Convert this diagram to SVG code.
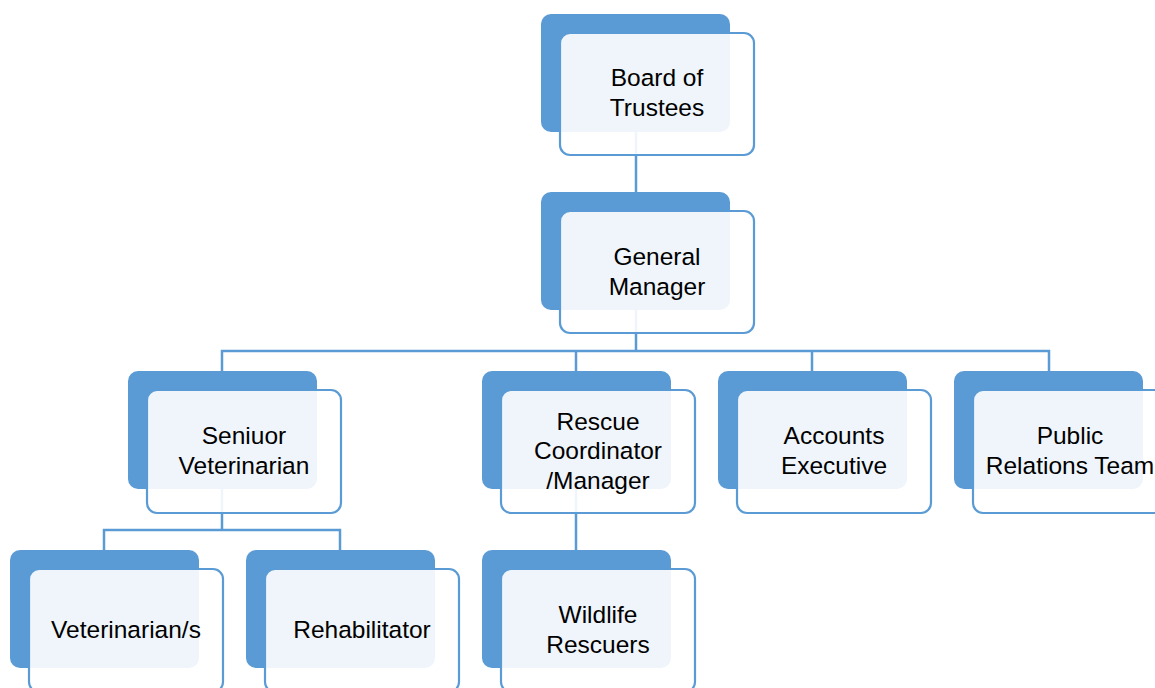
<svg xmlns="http://www.w3.org/2000/svg" width="1155" height="688" viewBox="0 0 1155 688">
<style>
.back{fill:#5B9BD5}
.front{fill:#FFFFFF;fill-opacity:0.9;stroke:#5B9BD5;stroke-width:2.2}
.conn{fill:none;stroke:#5B9BD5;stroke-width:2.5}
text{font-family:"Liberation Sans",Arial,sans-serif;font-size:24.5px;fill:#000;text-anchor:middle}
</style>
<rect width="1155" height="688" fill="#FFFFFF"/>
<g id="connectors">
<path class="conn" d="M636,132V192"/>
<path class="conn" d="M636,310V351M222,371V351H1049V371M576,351V371M812,351V371"/>
<path class="conn" d="M222,489V530M104,550V530H340V550"/>
<path class="conn" d="M576,489V550"/>
</g>
<g id="board">
<rect class="back" x="541" y="14" width="189" height="118" rx="10"/>
<rect class="front" x="560" y="33" width="194" height="122" rx="10"/>
<text x="657" y="86">Board of</text>
<text x="657" y="116">Trustees</text>
</g>
<g id="general-manager">
<rect class="back" x="541" y="192" width="189" height="118" rx="10"/>
<rect class="front" x="560" y="211" width="194" height="122" rx="10"/>
<text x="657" y="265">General</text>
<text x="657" y="295">Manager</text>
</g>
<g id="senior-vet">
<rect class="back" x="128" y="371" width="189" height="118" rx="10"/>
<rect class="front" x="147" y="390" width="194" height="123" rx="10"/>
<text x="244" y="444">Seniuor</text>
<text x="244" y="474">Veterinarian</text>
</g>
<g id="rescue-coordinator">
<rect class="back" x="482" y="371" width="189" height="118" rx="10"/>
<rect class="front" x="501" y="390" width="194" height="123" rx="10"/>
<text x="598" y="430">Rescue</text>
<text x="598" y="459">Coordinator</text>
<text x="598" y="489">/Manager</text>
</g>
<g id="accounts">
<rect class="back" x="718" y="371" width="189" height="118" rx="10"/>
<rect class="front" x="737" y="390" width="194" height="123" rx="10"/>
<text x="834" y="444">Accounts</text>
<text x="834" y="474">Executive</text>
</g>
<g id="public-relations">
<rect class="back" x="954" y="371" width="189" height="118" rx="10"/>
<rect class="front" x="973" y="390" width="194" height="123" rx="10"/>
<text x="1070" y="444">Public</text>
<text x="1070" y="474">Relations Team</text>
</g>
<g id="veterinarians">
<rect class="back" x="10" y="550" width="189" height="118" rx="10"/>
<rect class="front" x="29" y="569" width="194" height="123" rx="10"/>
<text x="126" y="638">Veterinarian/s</text>
</g>
<g id="rehabilitator">
<rect class="back" x="246" y="550" width="189" height="118" rx="10"/>
<rect class="front" x="265" y="569" width="194" height="123" rx="10"/>
<text x="362" y="638">Rehabilitator</text>
</g>
<g id="wildlife-rescuers">
<rect class="back" x="482" y="550" width="189" height="118" rx="10"/>
<rect class="front" x="501" y="569" width="194" height="123" rx="10"/>
<text x="598" y="623">Wildlife</text>
<text x="598" y="653">Rescuers</text>
</g>
</svg>
